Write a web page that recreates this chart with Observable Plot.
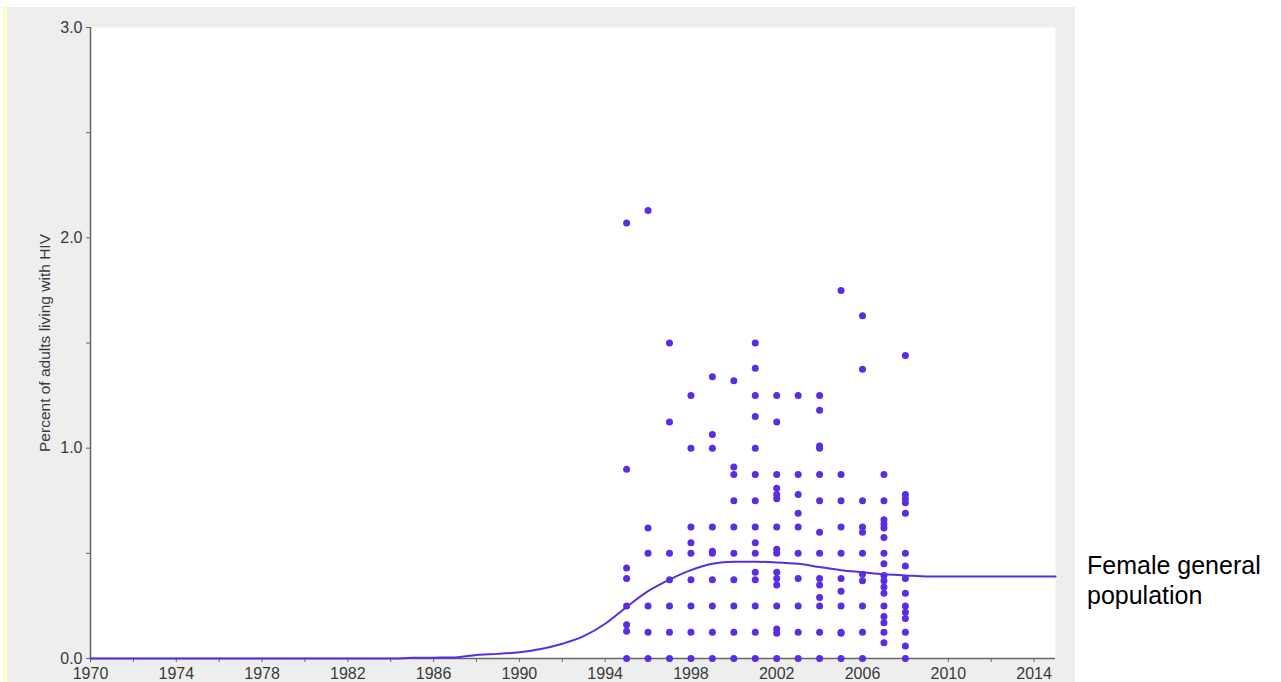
<!DOCTYPE html>
<html><head><meta charset="utf-8">
<script src="https://cdn.jsdelivr.net/npm/d3@7"></script>
<script src="https://cdn.jsdelivr.net/npm/@observablehq/plot@0.6"></script>
<style>
body{margin:0;background:#fff;width:1281px;height:682px;overflow:hidden;position:relative;font-family:"Liberation Sans",Arial,sans-serif}
#panel{position:absolute;left:7px;top:7px;width:1068px;height:675px;background:#eeeeee}
#stripe{position:absolute;left:3px;top:7px;width:4px;height:675px;background:#fffbc8}
#legend{position:absolute;left:1087px;top:550px;font-size:25px;line-height:30px;color:#000}
</style></head><body>
<div id="stripe"></div><div id="panel"></div><div id="legend">Female general<br>population</div>
<script>
// Fitted curve (model estimate)
const curveYears = [1970,1972,1974,1976,1978,1980,1982,1984,1985,1986,1987,1988,1989,1990,1991,1992,1993,1994,1995,1996,1997,1998,1999,2000,2001,2002,2003,2004,2005,2006,2007,2008,2009,2010,2011,2012,2013,2014,2015];
const curveValues = [0,0,0,0,0,0,0,0,0.003,0.004,0.005,0.017,0.022,0.03,0.045,0.07,0.106,0.165,0.245,0.32,0.375,0.42,0.45,0.46,0.46,0.457,0.45,0.435,0.42,0.41,0.40,0.395,0.39,0.39,0.39,0.39,0.39,0.39,0.39];

// Survey observations, per year
const surveyYears = [1995,1996,1997,1998,1999,2000,2001,2002,2003,2004,2005,2006,2007,2008];
const surveyValues = [
  [2.07,0.90,0.43,0.38,0.25,0.16,0.13,0],
  [2.13,0.62,0.5,0.25,0.125,0],
  [1.5,1.125,0.5,0.375,0.25,0.125,0],
  [1.25,1.0,0.625,0.55,0.5,0.375,0.25,0.125,0],
  [1.34,1.065,1.0,0.625,0.51,0.5,0.375,0.25,0.125,0],
  [1.32,0.91,0.875,0.75,0.625,0.5,0.375,0.25,0.125,0],
  [1.5,1.38,1.25,1.15,1.0,0.875,0.75,0.625,0.55,0.5,0.41,0.375,0.25,0.125,0],
  [1.25,1.125,0.875,0.81,0.78,0.76,0.625,0.52,0.5,0.41,0.38,0.35,0.25,0.14,0.12,0],
  [1.25,0.875,0.78,0.69,0.625,0.5,0.38,0.25,0.125,0],
  [1.25,1.18,1.01,1.0,0.875,0.75,0.60,0.5,0.38,0.35,0.29,0.25,0.125,0],
  [1.75,0.875,0.75,0.625,0.5,0.38,0.32,0.25,0.125,0.12,0],
  [1.63,1.375,0.75,0.625,0.60,0.5,0.40,0.37,0.25,0.125,0],
  [0.875,0.75,0.66,0.64,0.62,0.575,0.5,0.45,0.395,0.37,0.34,0.31,0.25,0.20,0.17,0.125,0.075],
  [1.44,0.78,0.76,0.74,0.69,0.5,0.44,0.38,0.31,0.25,0.22,0.19,0.125,0.06,0]
];

const xLabelTicks = [1970,1974,1978,1982,1986,1990,1994,1998,2002,2006,2010,2014];
const xMinorTicks = [1972,1976,1980,1984,1988,1992,1996,2000,2004,2008,2012];
const yLabelTicks = [0,1,2,3];
const yMinorTicks = [0.5,1.5,2.5];
const yTitle = "Percent of adults living with HIV";

const curve = curveYears.map((x,i)=>({x, y: curveValues[i]}));
const points = surveyYears.flatMap((x,i)=>surveyValues[i].map(y=>({x,y})));

const purple = "#5b2de2";
const axisColor = "#666";

const chart = Plot.plot({
  width: 1068, height: 675,
  marginLeft: 83, marginTop: 20, marginRight: 20, marginBottom: 24,
  style: {background: "transparent", fontFamily: "'Liberation Sans', Arial, sans-serif", fontSize: "16px", color: "#333"},
  x: {domain: [1970, 2015]},
  y: {domain: [0, 3]},
  marks: [
    Plot.frame({fill: "white", stroke: "none"}),
    Plot.axisX({ticks: xLabelTicks, tickFormat: d3.format("d"), tickSize: 4, tickPadding: 5, stroke: axisColor, fill: "#3a3a3a", label: null}),
    Plot.axisX({ticks: xMinorTicks, tickFormat: () => "", tickSize: 4, stroke: axisColor, label: null}),
    Plot.axisY({ticks: yLabelTicks, tickFormat: d3.format(".1f"), tickSize: 4, tickPadding: 4, stroke: axisColor, fill: "#3a3a3a", label: null}),
    Plot.axisY({ticks: yMinorTicks, tickFormat: () => "", tickSize: 4, stroke: axisColor, label: null}),
    Plot.ruleX([1970], {stroke: axisColor, strokeWidth: 1.5}),
    Plot.ruleY([0], {stroke: axisColor, strokeWidth: 1.5}),
    Plot.text([yTitle], {frameAnchor: "left", textAnchor: "middle", rotate: -90, dx: -45, fontSize: 15.5, fill: "#3a3a3a", fontFamily: "'Liberation Sans', Arial, sans-serif"}),
    Plot.line(curve, {x: "x", y: "y", stroke: purple, strokeWidth: 2, curve: "monotone-x"}),
    Plot.dot(points, {x: "x", y: "y", r: 3.5, fill: purple, stroke: "none"})
  ]
});
document.getElementById("panel").appendChild(chart);
</script>
</body></html>
